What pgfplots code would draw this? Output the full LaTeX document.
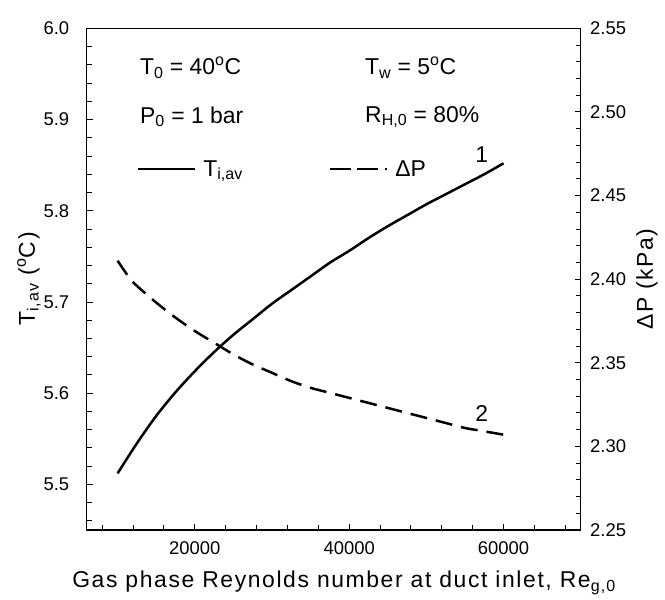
\documentclass[border=0pt]{standalone}
\usepackage{fontspec}
\setmainfont{Liberation Sans}
\newfontfamily\widefam[LetterSpace=7]{Liberation Sans}
\usepackage{pgfplots}
\usepackage{pgfplotstable}
\pgfplotsset{compat=1.18}

% Average interface temperature (left axis), degC
\pgfplotstableread{
Re     T
10000  5.512
12500  5.545
15000  5.575
17500  5.601
20000  5.624
22500  5.645
25000  5.664
27500  5.681
30000  5.698
32500  5.713
35000  5.728
37500  5.743
40000  5.756
42500  5.770
45000  5.783
47500  5.795
50000  5.807
52500  5.818
55000  5.829
57500  5.840
60000  5.852
}\tempdata

% Pressure drop (right axis), kPa
\pgfplotstableread{
Re     P
10000  2.411
11500  2.401
12500  2.396
15000  2.386
17500  2.377
20000  2.369
22500  2.362
25000  2.355
27500  2.349
30000  2.344
32500  2.339
35000  2.335
37500  2.332
40000  2.329
42500  2.326
45000  2.323
47500  2.320
50000  2.317
52500  2.314
55000  2.311
57500  2.309
60000  2.307
}\pdata

\newcommand{\lblfont}{\fontsize{23}{25}\selectfont}
\newcommand{\axlblfont}{\widefam\fontsize{23}{25}\selectfont}
\newcommand{\tckfont}{\fontsize{18.5}{21}\selectfont}

\pgfplotsset{
  common/.style={
    scale only axis,
    width=494bp, height=501.7bp,
    at={(0,0)}, anchor=south west,
    xmin=6000, xmax=70000,
    tick align=inside,
    major tick length=6bp, minor tick length=5bp,
    every tick/.style={black, line width=0.9bp},
    axis line style={line width=1.4bp},
    /pgf/number format/assume math mode=true,
    tick label style={font=\tckfont},
    label style={font=\axlblfont},
  }
}

\begin{document}
\begin{tikzpicture}[x=1bp,y=1bp]
\path[use as bounding box] (-86.7,-70) rectangle (578.3,530);

\begin{axis}[common,
  ymin=5.45, ymax=6.0,
  xtick={20000,40000,60000},
  minor xtick={8000,12000,...,68000},
  ytick={5.5,5.6,5.7,5.8,5.9,6.0},
  minor ytick={5.46,5.48,...,5.99},
  xtick pos=bottom, ytick pos=left,
  scaled x ticks=false,
  xticklabel style={/pgf/number format/1000 sep=, yshift=-8bp},
  yticklabel style={/pgf/number format/fixed,
    /pgf/number format/precision=1,
    /pgf/number format/fixed zerofill, xshift=-14bp},
  xlabel={Gas phase Reynolds number at duct inlet, Re\textsubscript{g,0}},
  xlabel style={at={(axis description cs:0.521,-0.1156)}, anchor=base},
  ylabel={T\textsubscript{i,av} (\textsuperscript{o}C)},
  ylabel style={at={(axis description cs:-0.117,0.5)}, anchor=center},
  legend columns=2,
  legend style={draw=none, fill=none, font=\lblfont,
    at={(axis description cs:0.1012,0.7196)}, anchor=west,
    inner sep=0pt,
    /tikz/every odd column/.append style={column sep=5bp},
    /tikz/every even column/.append style={column sep=84bp}},
]
\addplot[black, line width=2.5bp, smooth, forget plot] table[x=Re, y=T] {\tempdata};

\addlegendimage{legend image code/.code={
  \draw[black, line width=2.5bp] (0bp,0bp) -- (57bp,0bp);}}
\addlegendentry{T\textsubscript{i,av}}
\addlegendimage{legend image code/.code={
  \draw[black, line width=2.5bp,
    dash pattern=on 21bp off 6bp on 21bp off 7bp on 2bp off 60bp]
    (0bp,0bp) -- (57bp,0bp);}}
\addlegendentry{ΔP}

\node[font=\lblfont, anchor=base west] at (rel axis cs:0.1012,0.907)
  {T\textsubscript{0} = 40\textsuperscript{o}C};
\node[font=\lblfont, anchor=base west] at (rel axis cs:0.1012,0.811)
  {P\textsubscript{0} = 1 bar};
\node[font=\lblfont, anchor=base west] at (rel axis cs:0.5567,0.907)
  {T\textsubscript{w} = 5\textsuperscript{o}C};
\node[font=\lblfont, anchor=base west] at (rel axis cs:0.5567,0.813)
  {R\textsubscript{H,0} = 80\%};
\node[font=\lblfont] at (rel axis cs:0.7996,0.7475) {1};
\node[font=\lblfont] at (rel axis cs:0.7996,0.2332) {2};
\end{axis}

\begin{axis}[common,
  ymin=2.25, ymax=2.55,
  axis x line=none,
  axis y line*=right,
  ytick={2.25,2.30,2.35,2.40,2.45,2.50,2.55},
  minor ytick={2.26,2.27,...,2.545},
  yticklabel style={/pgf/number format/fixed,
    /pgf/number format/precision=2,
    /pgf/number format/fixed zerofill, xshift=6bp},
  ylabel={ΔP (kPa)},
  ylabel style={at={(axis description cs:1.134,0.5)}, anchor=center},
]
\addplot[black, line width=2.5bp, smooth, dash pattern=on 17bp off 9bp]
  table[x=Re, y=P] {\pdata};
\end{axis}
\end{tikzpicture}
\end{document}
